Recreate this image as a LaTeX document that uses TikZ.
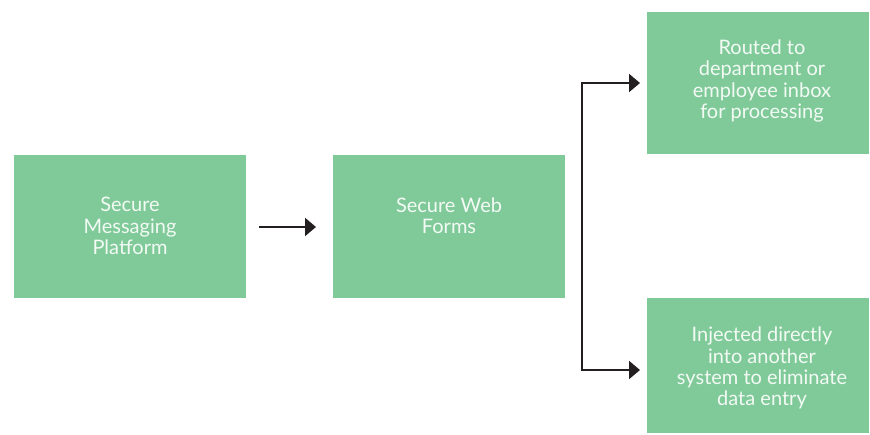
\documentclass[tikz,border=0pt]{standalone}
\usepackage{fontspec}
\setmainfont{Lato}
\usetikzlibrary{arrows.meta}
\definecolor{boxgreen}{HTML}{80CA9A}
\definecolor{txt}{HTML}{F2FAF4}
\definecolor{ink}{HTML}{231F20}
\tikzset{
  box/.style={fill=boxgreen, draw=none, inner sep=0pt},
  lbl/.style={text=txt, align=center, font=\fontsize{20}{21.3}\selectfont, inner sep=0pt},
  conn/.style={draw=ink, line width=2pt, -{Triangle[length=11pt,width=18pt]}},
}
\begin{document}
\begin{tikzpicture}[x=1pt,y=-1pt]
\useasboundingbox (0,0) rectangle (870,434);
\fill[white] (0,0) rectangle (870,434);
\node[box, minimum width=232pt, minimum height=143pt, anchor=north west] (b1) at (14,155) {};
\node[box, minimum width=232pt, minimum height=143pt, anchor=north west] (b2) at (333,155) {};
\node[box, minimum width=222pt, minimum height=142pt, anchor=north west] (b3) at (647,12) {};
\node[box, minimum width=222pt, minimum height=135pt, anchor=north west] (b4) at (647,298) {};
\node[lbl] (t1) at (130,226) {Secure\\Messaging\\Platform};
\node[lbl] (t2) at (449,216) {Secure Web\\Forms};
\node[lbl] (t3) at (762,81) {Routed to\\department or\\employee inbox\\for processing};
\node[lbl] (t4) at (762,368) {Injected directly\\into another\\system to eliminate\\data entry};
\coordinate (a1) at (259,227);
\coordinate (j1) at (582,83);
\coordinate (j2) at (582,370);
\draw[conn, shorten >=17pt] (a1) -- (b2.west |- a1);
\draw[conn, shorten >=7pt] (j2) -- (j1) -- (b3.west |- j1);
\draw[conn, shorten >=7pt] (j1) -- (j2) -- (b4.west |- j2);
\end{tikzpicture}
\end{document}
